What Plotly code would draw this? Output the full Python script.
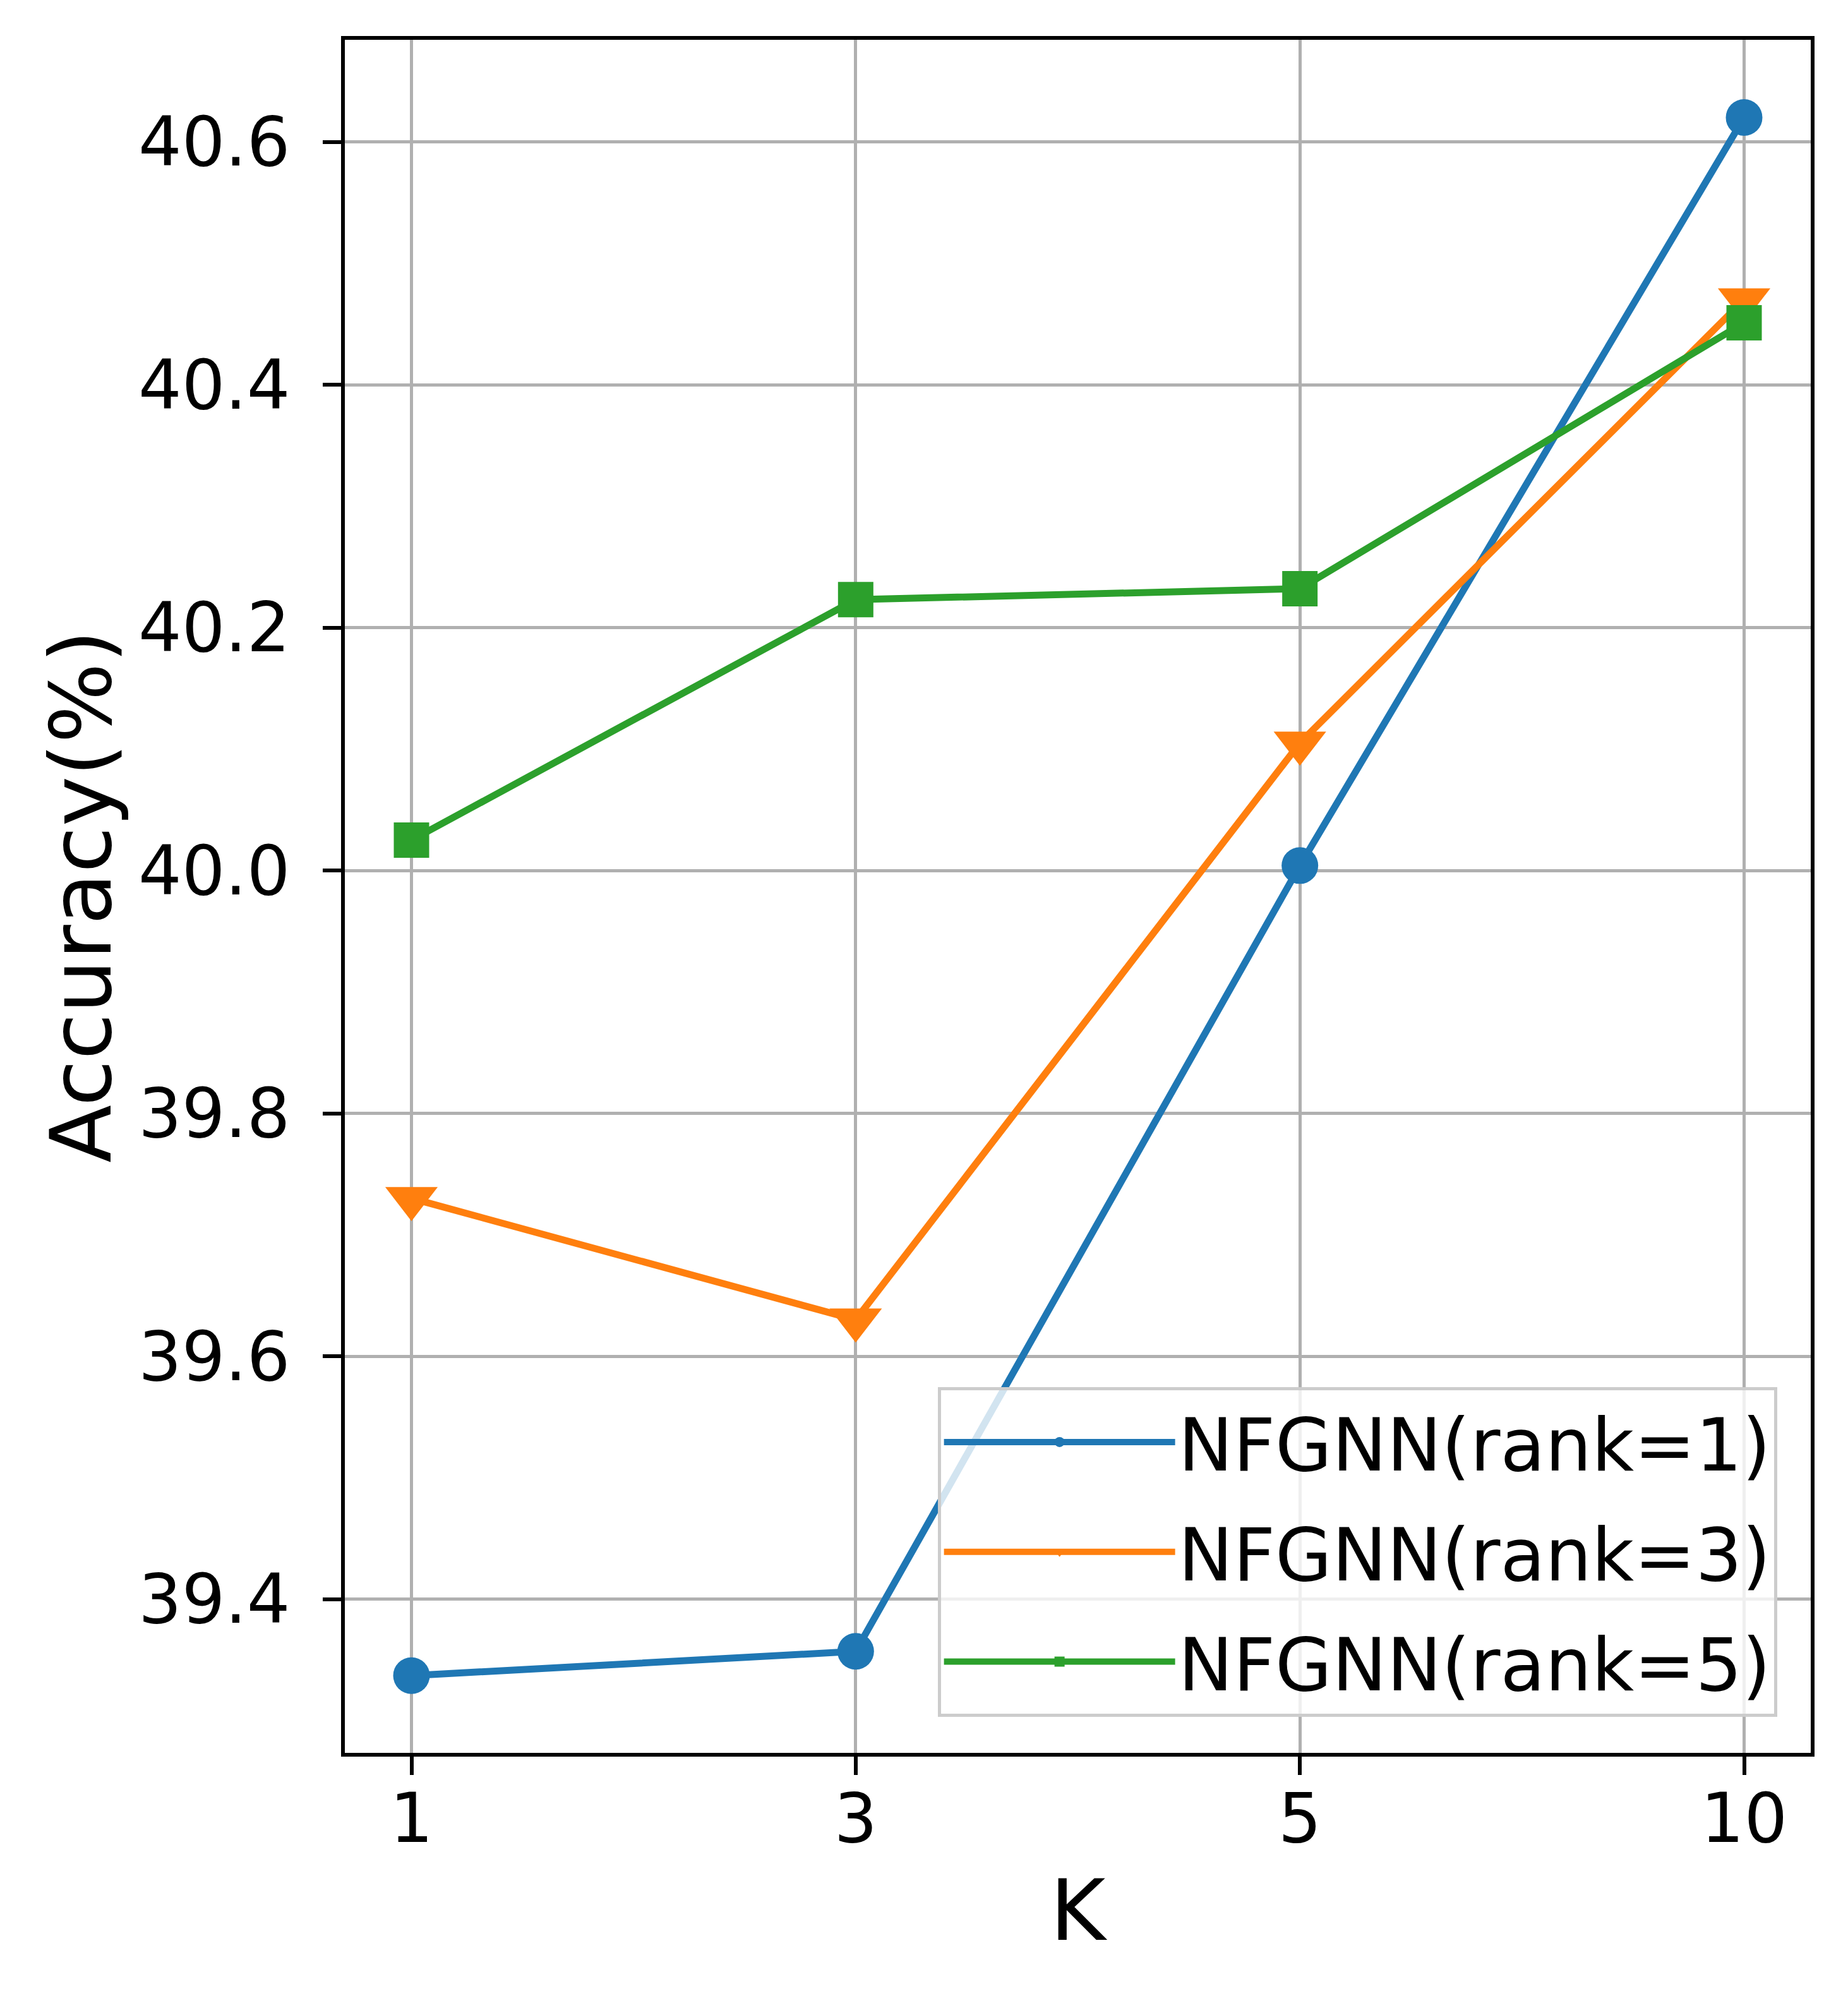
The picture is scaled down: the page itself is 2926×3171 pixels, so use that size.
import plotly.graph_objects as go

k_labels = ["1", "3", "5", "10"]
acc_rank1 = [39.337, 39.357, 40.004, 40.620]
acc_rank3 = [39.730, 39.630, 40.105, 40.470]
acc_rank5 = [40.025, 40.223, 40.232, 40.451]
series_names = ["NFGNN(rank=1)", "NFGNN(rank=3)", "NFGNN(rank=5)"]
y_ticks = [39.4, 39.6, 39.8, 40.0, 40.2, 40.4, 40.6]

colors = ["#1f77b4", "#ff7f0e", "#2ca02c"]
symbols = ["circle", "triangle-down", "square"]
sizes = [58, 72, 56]
font = "DejaVu Sans"

fig = go.Figure()
for i, ys in enumerate([acc_rank1, acc_rank3, acc_rank5]):
    fig.add_trace(go.Scatter(
        x=k_labels, y=ys, name=series_names[i], mode="lines+markers",
        legendgroup=str(i),
        line=dict(color=colors[i], width=11),
        marker=dict(symbol=symbols[i], size=sizes[i], color=colors[i], line=dict(width=0)),
    ))

axis_common = dict(
    showline=True, linecolor="black", linewidth=6, mirror=True,
    showgrid=True, gridcolor="#b0b0b0", gridwidth=5,
    ticks="outside", ticklen=29, tickwidth=6, tickcolor="black",
    tickfont=dict(family=font, size=108, color="black"),
    zeroline=False,
)

fig.update_xaxes(type="category", range=[-0.15, 3.15],
                 title=dict(text="K", font=dict(family=font, size=134, color="black"), standoff=40),
                 ticklabelstandoff=-24, **axis_common)
fig.update_yaxes(range=[39.2734, 40.684], tickvals=y_ticks, tickformat=".1f",
                 title=dict(text="Accuracy(%)", font=dict(family=font, size=134, color="black"), standoff=0),
                 ticklabelstandoff=30, **axis_common)

fig.update_layout(
    width=2926, height=3171,
    margin=dict(l=538, r=67, t=55, b=404),
    plot_bgcolor="white", paper_bgcolor="white",
    font=dict(family=font, color="black"),
    legend=dict(
        x=0.977, y=0.021, xanchor="right", yanchor="bottom",
        bgcolor="rgba(255,255,255,0.8)", bordercolor="#cccccc", borderwidth=5,
        font=dict(family=font, size=116, color="black"),
        itemwidth=366, tracegroupgap=20,
    ),
)

fig.write_html("out.html")
